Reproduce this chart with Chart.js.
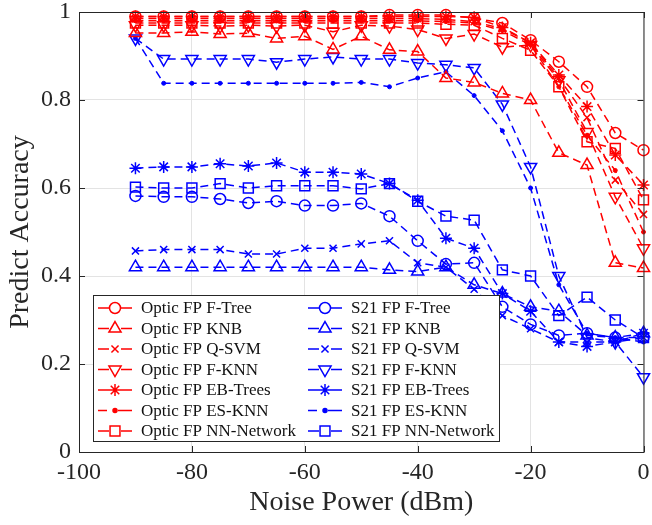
<!DOCTYPE html>
<html>
<head>
<meta charset="utf-8">
<script src="https://cdn.jsdelivr.net/npm/chart.js@4.4.0/dist/chart.umd.min.js"></script>
<style>
  html, body { margin: 0; padding: 0; background: #fff; }
  #wrap { width: 652px; height: 525px; }
</style>
</head>
<body>
<div id="wrap"><canvas id="grafico"></canvas></div>
<script>
// eixo x: potencia de ruido (dBm)
const noisePower = [-90, -85, -80, -75, -70, -65, -60, -55, -50, -45, -40, -35, -30, -25, -20, -15, -10, -5, 0];

// Optic FP
const opticFTree = [0.99, 0.99, 0.99, 0.99, 0.99, 0.99, 0.99, 0.99, 0.99, 0.993, 0.993, 0.993, 0.986, 0.975, 0.936, 0.887, 0.83, 0.725, 0.686];
const opticKNB   = [0.952, 0.952, 0.955, 0.95, 0.952, 0.94, 0.945, 0.915, 0.945, 0.914, 0.91, 0.85, 0.84, 0.815, 0.80, 0.68, 0.652, 0.43, 0.418];
const opticQSVM  = [0.985, 0.985, 0.985, 0.985, 0.985, 0.985, 0.985, 0.985, 0.985, 0.985, 0.985, 0.983, 0.978, 0.962, 0.93, 0.85, 0.76, 0.618, 0.54];
const opticFKNN  = [0.97, 0.97, 0.97, 0.968, 0.97, 0.968, 0.97, 0.955, 0.97, 0.968, 0.96, 0.94, 0.95, 0.92, 0.925, 0.845, 0.727, 0.58, 0.463];
const opticEBT   = [0.99, 0.99, 0.99, 0.99, 0.99, 0.99, 0.99, 0.99, 0.99, 0.99, 0.99, 0.99, 0.988, 0.965, 0.93, 0.857, 0.785, 0.675, 0.607];
const opticESKNN = [0.98, 0.98, 0.98, 0.98, 0.98, 0.98, 0.98, 0.98, 0.98, 0.98, 0.98, 0.978, 0.975, 0.958, 0.925, 0.83, 0.72, 0.64, 0.50];
const opticNN    = [0.975, 0.975, 0.975, 0.975, 0.975, 0.975, 0.975, 0.975, 0.975, 0.975, 0.975, 0.972, 0.97, 0.94, 0.913, 0.83, 0.705, 0.69, 0.573];

// S21 FP
const s21FTree = [0.582, 0.58, 0.58, 0.575, 0.566, 0.57, 0.56, 0.56, 0.565, 0.536, 0.48, 0.427, 0.43, 0.33, 0.29, 0.265, 0.27, 0.26, 0.26];
const s21KNB   = [0.42, 0.42, 0.42, 0.42, 0.42, 0.42, 0.42, 0.42, 0.42, 0.414, 0.41, 0.42, 0.38, 0.36, 0.33, 0.32, 0.265, 0.26, 0.27];
const s21QSVM  = [0.457, 0.46, 0.46, 0.46, 0.45, 0.45, 0.463, 0.463, 0.473, 0.48, 0.43, 0.42, 0.37, 0.31, 0.28, 0.25, 0.25, 0.25, 0.26];
const s21FKNN  = [0.94, 0.893, 0.893, 0.893, 0.893, 0.886, 0.893, 0.898, 0.893, 0.893, 0.884, 0.88, 0.873, 0.79, 0.648, 0.40, 0.26, 0.25, 0.17];
const s21EBT   = [0.645, 0.648, 0.648, 0.655, 0.65, 0.657, 0.636, 0.636, 0.632, 0.61, 0.572, 0.486, 0.463, 0.36, 0.32, 0.25, 0.24, 0.25, 0.27];
const s21ESKNN = [0.94, 0.838, 0.838, 0.838, 0.838, 0.838, 0.838, 0.838, 0.84, 0.83, 0.85, 0.864, 0.81, 0.73, 0.60, 0.38, 0.27, 0.26, 0.25];
const s21NN    = [0.602, 0.60, 0.60, 0.61, 0.60, 0.605, 0.605, 0.605, 0.598, 0.61, 0.57, 0.536, 0.527, 0.414, 0.40, 0.31, 0.352, 0.30, 0.26];

const xTicks = [-100, -80, -60, -40, -20, 0];
const yTicks = [0, 0.2, 0.4, 0.6, 0.8, 1];

const RED = 'rgb(255,0,0)';
const BLUE = 'rgb(0,0,255)';
const FONTE = '"Liberation Serif", "Times New Roman", serif';

function serie(label, valores, cor, estilo, raio, rot) {
    const pontual = estilo === 'dot';
    return {
        label: label,
        data: valores.map((v, i) => ({ x: noisePower[i], y: v })),
        borderColor: cor,
        backgroundColor: 'rgba(0,0,0,0)',
        borderWidth: 1.5,
        borderDash: [8, 5],
        pointStyle: pontual ? 'circle' : estilo,
        pointRadius: raio,
        pointRotation: rot || 0,
        pointBorderColor: cor,
        pointBackgroundColor: pontual ? cor : 'rgba(0,0,0,0)',
        pointBorderWidth: pontual ? 1 : 1.5,
        tension: 0,
        clip: false
    };
}

const optic = [
    serie('Optic FP F-Tree', opticFTree, RED, 'circle', 5.5),
    serie('Optic FP KNB', opticKNB, RED, 'triangle', 7),
    serie('Optic FP Q-SVM', opticQSVM, RED, 'crossRot', 5),
    serie('Optic FP F-KNN', opticFKNN, RED, 'triangle', 7, 180),
    serie('Optic FP EB-Trees', opticEBT, RED, 'star', 6),
    serie('Optic FP ES-KNN', opticESKNN, RED, 'dot', 2),
    serie('Optic FP NN-Network', opticNN, RED, 'rect', 7)
];
const s21 = [
    serie('S21 FP F-Tree', s21FTree, BLUE, 'circle', 5.5),
    serie('S21 FP KNB', s21KNB, BLUE, 'triangle', 7),
    serie('S21 FP Q-SVM', s21QSVM, BLUE, 'crossRot', 5),
    serie('S21 FP F-KNN', s21FKNN, BLUE, 'triangle', 7, 180),
    serie('S21 FP EB-Trees', s21EBT, BLUE, 'star', 6),
    serie('S21 FP ES-KNN', s21ESKNN, BLUE, 'dot', 2),
    serie('S21 FP NN-Network', s21NN, BLUE, 'rect', 7)
];

// caixa, marcas internas e legenda no estilo MATLAB
const molduraPlugin = {
    id: 'moldura',
    afterDraw(chart) {
        const ctx = chart.ctx;
        const a = chart.chartArea;
        const sx = chart.scales.x, sy = chart.scales.y;
        ctx.save();
        ctx.strokeStyle = '#262626';
        ctx.lineWidth = 1;
        ctx.setLineDash([]);
        ctx.strokeRect(a.left + 0.5, a.top + 0.5, a.right - a.left, a.bottom - a.top);
        ctx.beginPath();
        xTicks.forEach(t => {
            const px = Math.round(sx.getPixelForValue(t)) + 0.5;
            ctx.moveTo(px, a.bottom); ctx.lineTo(px, a.bottom - 6);
            ctx.moveTo(px, a.top); ctx.lineTo(px, a.top + 6);
        });
        yTicks.forEach(t => {
            const py = Math.round(sy.getPixelForValue(t)) + 0.5;
            ctx.moveTo(a.left, py); ctx.lineTo(a.left + 6, py);
            ctx.moveTo(a.right, py); ctx.lineTo(a.right - 6, py);
        });
        ctx.stroke();

        // legenda
        const bx = 93, by = 295, bw = 406, bh = 146;
        ctx.fillStyle = '#fff';
        ctx.fillRect(bx, by, bw, bh);
        ctx.strokeStyle = '#262626';
        ctx.strokeRect(bx + 0.5, by + 0.5, bw, bh);
        ctx.font = '17px ' + FONTE;
        ctx.textBaseline = 'middle';
        const colunas = [{ ds: optic, x0: 98 }, { ds: s21, x0: 308 }];
        colunas.forEach(col => {
            col.ds.forEach((d, i) => {
                const y = 308 + i * 20.5;
                const x0 = col.x0, x1 = col.x0 + 34, xm = col.x0 + 17;
                ctx.strokeStyle = d.borderColor;
                ctx.lineWidth = 1.5;
                ctx.beginPath();
                if (d.pointRadius <= 2) {
                    ctx.moveTo(x0, y); ctx.lineTo(x0 + 9, y);
                    ctx.moveTo(xm + 3, y); ctx.lineTo(x1, y);
                } else {
                    ctx.moveTo(x0, y); ctx.lineTo(xm - 6, y);
                    ctx.moveTo(xm + 6, y); ctx.lineTo(x1, y);
                }
                ctx.stroke();
                ctx.fillStyle = d.pointBackgroundColor;
                Chart.helpers.drawPoint(ctx, {
                    pointStyle: d.pointStyle,
                    radius: d.pointRadius,
                    rotation: d.pointRotation,
                    borderWidth: d.pointBorderWidth
                }, xm, y);
                ctx.fillStyle = '#111';
                ctx.fillText(d.label, x1 + 9, y + 1);
            });
        });
        ctx.restore();
    }
};

const ctx = document.getElementById('grafico').getContext('2d');
new Chart(ctx, {
    type: 'line',
    data: { datasets: optic.concat(s21) },
    options: {
        responsive: true,
        maintainAspectRatio: false,
        animation: false,
        layout: { padding: { top: 12, right: 4, left: 0, bottom: 0 } },
        plugins: { legend: { display: false }, tooltip: { enabled: false } },
        scales: {
            x: {
                type: 'linear',
                min: -100, max: 0,
                afterBuildTicks: s => { s.ticks = xTicks.map(v => ({ value: v })); },
                afterFit: s => { s.height = 73; s.paddingLeft = 0; s.paddingRight = 0; },
                grid: { color: '#e3e3e3', drawTicks: false },
                border: { display: false },
                ticks: { color: '#262626', font: { family: FONTE, size: 24 }, padding: 6, maxRotation: 0 },
                title: { display: true, text: 'Noise Power (dBm)', color: '#262626', font: { family: FONTE, size: 28 }, padding: { top: 0, bottom: 6 } }
            },
            y: {
                min: 0, max: 1,
                afterBuildTicks: s => { s.ticks = yTicks.map(v => ({ value: v })); },
                afterFit: s => { s.width = 79; s.paddingTop = 0; s.paddingBottom = 0; },
                grid: { color: '#e3e3e3', drawTicks: false },
                border: { display: false },
                ticks: { color: '#262626', font: { family: FONTE, size: 24 }, padding: 8, callback: v => String(v) },
                title: { display: true, text: 'Predict Accuracy', color: '#262626', font: { family: FONTE, size: 28 }, padding: { top: 4, bottom: 0 } }
            }
        }
    },
    plugins: [molduraPlugin]
});
</script>
</body>
</html>
